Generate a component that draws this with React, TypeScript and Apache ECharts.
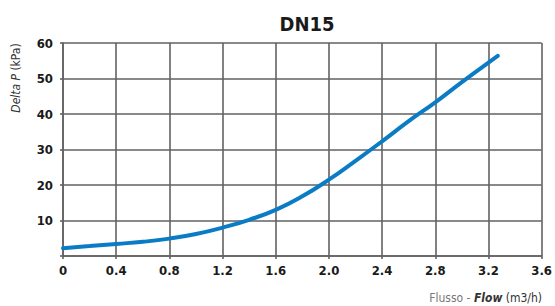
import React, { useEffect, useRef } from "react";
import * as echarts from "echarts";

const title = "DN15";
const flow = [0, 0.2, 0.4, 0.6, 0.8, 1.0, 1.2, 1.4, 1.6, 1.8, 2.0, 2.2, 2.4, 2.6, 2.8, 3.0, 3.2, 3.27];
const deltaP = [2.2, 2.8, 3.4, 4.0, 4.9, 6.2, 8.0, 10.2, 13.0, 16.8, 21.5, 26.8, 32.3, 38.0, 43.3, 49.0, 54.5, 56.4];
const xTicks = [0, 0.4, 0.8, 1.2, 1.6, 2.0, 2.4, 2.8, 3.2, 3.6];
const yTicks = [10, 20, 30, 40, 50, 60];

const FONT = "'Liberation Sans Narrow', 'DejaVu Sans Condensed', Roboto, sans-serif";

export default function App() {
  const ref = useRef<HTMLDivElement>(null);
  useEffect(() => {
    if (!ref.current) return;
    const chart = echarts.init(ref.current, null, { renderer: "svg" });
    const gridColor = "#626262";
    chart.setOption({
      animation: false,
      backgroundColor: "#ffffff",
      title: {
        text: title,
        left: 302,
        top: 9,
        textAlign: "center",
        textStyle: { fontFamily: FONT, fontSize: 20, fontWeight: "bold", color: "#1a1a1a" },
      },
      grid: { left: 63, right: 12, top: 43, bottom: 50, containLabel: false },
      xAxis: {
        type: "value",
        min: 0,
        max: 3.6,
        interval: 0.4,
        axisLine: { show: true, lineStyle: { color: gridColor, width: 1.6 } },
        axisTick: { show: true, length: 3, lineStyle: { color: gridColor, width: 1.6 } },
        splitLine: { show: true, lineStyle: { color: gridColor, width: 1.6 } },
        axisLabel: {
          margin: 8,
          fontFamily: FONT,
          fontSize: 13,
          fontWeight: "bold",
          color: "#1a1a1a",
          formatter: (v: number) => {
            const t = xTicks.find((x) => Math.abs(x - v) < 1e-6);
            if (t === undefined) return "";
            return t === 0 ? "0" : t.toFixed(1);
          },
        },
      },
      yAxis: {
        type: "value",
        min: 0,
        max: 60,
        interval: 10,
        axisLine: { show: true, lineStyle: { color: gridColor, width: 1.6 } },
        axisTick: { show: true, length: 3, lineStyle: { color: gridColor, width: 1.6 } },
        splitLine: { show: true, lineStyle: { color: gridColor, width: 1.6 } },
        axisLabel: {
          margin: 10,
          fontFamily: FONT,
          fontSize: 13,
          fontWeight: "bold",
          color: "#1a1a1a",
          formatter: (v: number) => (yTicks.includes(v) ? String(v) : ""),
        },
      },
      graphic: [
        {
          type: "text",
          x: 16,
          y: 78,
          rotation: Math.PI / 2,
          style: {
            text: "{i|Delta P} {n|(kPa)}",
            textAlign: "center",
            textVerticalAlign: "middle",
            rich: {
              i: { fontFamily: FONT, fontSize: 12, fontStyle: "italic", fill: "#333333" },
              n: { fontFamily: FONT, fontSize: 12, fill: "#333333" },
            },
          },
        },
        {
          type: "text",
          right: 13,
          top: 292,
          style: {
            text: "{g|Flusso - }{i|Flow} {n|(m3/h)}",
            rich: {
              g: { fontFamily: FONT, fontSize: 12, fill: "#777777" },
              i: { fontFamily: FONT, fontSize: 12, fontStyle: "italic", fontWeight: "bold", fill: "#333333" },
              n: { fontFamily: FONT, fontSize: 12, fill: "#333333" },
            },
          },
        },
      ],
      series: [
        {
          type: "line",
          data: flow.map((x, i) => [x, deltaP[i]]),
          smooth: true,
          showSymbol: false,
          lineStyle: { color: "#0a7cc6", width: 4, cap: "round" },
        },
      ],
    });
    return () => chart.dispose();
  }, []);
  return <div ref={ref} style={{ position: "absolute", left: 0, top: 0, width: 555, height: 306 }} />;
}
